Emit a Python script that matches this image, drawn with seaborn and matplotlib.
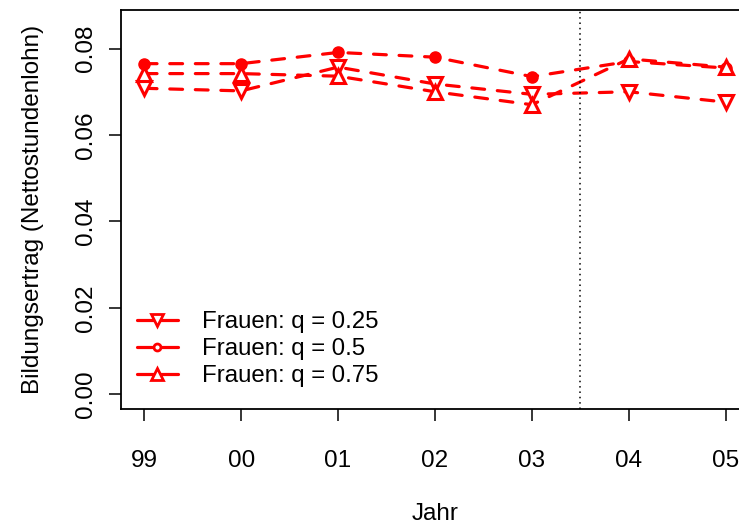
import matplotlib
matplotlib.use("Agg")
import matplotlib.pyplot as plt
from matplotlib.lines import Line2D
import seaborn as sns
import pandas as pd

# Jahre (zweistellig) und Bildungsertrag je Quantil
jahre = ["99", "00", "01", "02", "03", "04", "05"]
q25 = [0.0708, 0.0702, 0.0757, 0.0718, 0.0694, 0.0700, 0.0676]
q50 = [0.0765, 0.0765, 0.0791, 0.0780, 0.0735, 0.0770, 0.0755]
q75 = [0.0742, 0.0742, 0.0736, 0.0700, 0.0670, 0.0776, 0.0757]
labels = ["Frauen: q = 0.25", "Frauen: q = 0.5", "Frauen: q = 0.75"]
y_ticks = [0.00, 0.02, 0.04, 0.06, 0.08]

sns.set_style("ticks")
plt.rcParams["font.family"] = ["Liberation Sans", "DejaVu Sans"]
plt.rcParams["text.color"] = "black"
plt.rcParams["axes.labelcolor"] = "black"

red = "#ff0000"
fig = plt.figure(figsize=(7.39, 5.27), dpi=100)
ax = fig.add_axes([0.1637, 0.2239, 0.8498, 0.757])

series = [
    (q25, dict(marker="v", ms=10, mfc="white", mec=red, mew=2.2)),
    (q50, dict(marker="o", ms=8, mfc=red, mec=red, mew=1)),
    (q75, dict(marker="^", ms=10, mfc="white", mec=red, mew=2.2)),
]
for vals, mk in series:
    df = pd.DataFrame({"Jahr": jahre, "wert": vals})
    sns.lineplot(data=df, x="Jahr", y="wert", ax=ax, color=red, lw=2.3,
                 linestyle=(0, (4, 4)), dash_capstyle="round", sort=False, **mk)

# Strukturbruch zwischen 2003 und 2004
ax.axvline(4.5, color="black", lw=1.1, linestyle=(0, (1, 2.5)))

ax.set_xlim(-0.24, 6.24)
ax.set_ylim(-0.0034, 0.0889)
ax.set_yticks(y_ticks)
ax.set_yticklabels([f"{v:.2f}" for v in y_ticks], rotation=90, va="center")

for s in ax.spines.values():
    s.set_visible(True)
    s.set_color("black")
    s.set_linewidth(1.3)
ax.tick_params(axis="both", direction="out", length=8.6, width=1.1,
               color="black", labelsize=17.5, labelcolor="black")
ax.tick_params(axis="x", pad=21)
ax.tick_params(axis="y", pad=9)

ax.set_xlabel("Jahr", fontsize=17.5, labelpad=22.5)
ax.set_ylabel("Bildungsertrag (Nettostundenlohn)", fontsize=17.5, labelpad=22)

handles = [
    Line2D([], [], color=red, lw=2.3, marker="v", ms=8, mfc="white", mec=red, mew=2),
    Line2D([], [], color=red, lw=2.3, marker="o", ms=5, mfc="white", mec=red, mew=2),
    Line2D([], [], color=red, lw=2.3, marker="^", ms=8, mfc="white", mec=red, mew=2),
]
ax.legend(handles, labels, loc="lower left", bbox_to_anchor=(0.025, 0.055),
          frameon=False, fontsize=17.3, handlelength=1.7, handletextpad=1.0,
          labelspacing=0.2, borderpad=0, borderaxespad=0)

fig.savefig("out.png", dpi=100)
